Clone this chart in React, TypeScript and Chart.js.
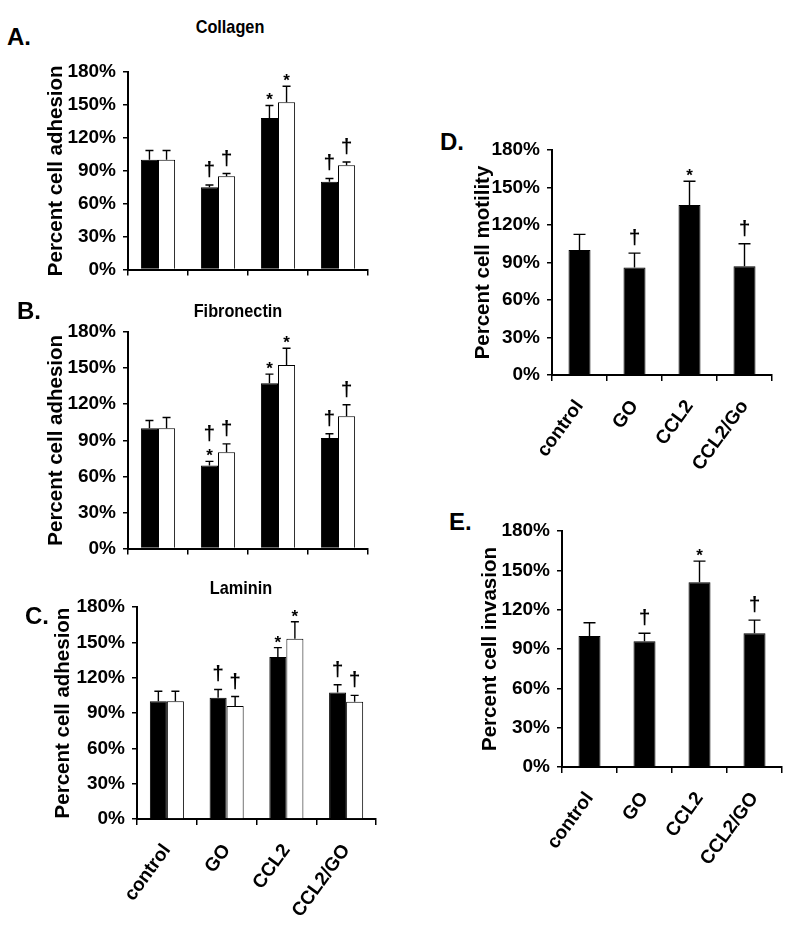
import React, { useEffect, useRef } from 'react';
import { Chart, registerables } from 'chart.js';

Chart.register(...registerables);

const FONT = "'Liberation Sans', Arial, sans-serif";
const NARROW = "'Liberation Sans Narrow', 'Arial Narrow', 'Liberation Sans', Arial, sans-serif";
Chart.defaults.font.family = FONT;

// ---------- data ----------
const groups = ['control', 'GO', 'CCL2', 'CCL2/GO'];
const groupsD = ['control', 'GO', 'CCL2', 'CCL2/Go'];
const yTicks = [0, 30, 60, 90, 120, 150, 180];

const collagenBlack = [100, 75, 138, 80];
const collagenBlackErr = [8.5, 2, 11.5, 3];
const collagenWhite = [100, 85, 152.5, 95];
const collagenWhiteErr = [8.5, 2.5, 14.5, 3];
const collagenBlackMarks = [[], ['†'], ['*'], ['†']];
const collagenWhiteMarks = [[], ['†'], ['*'], ['†']];

const fibroBlack = [100, 69, 137.5, 92];
const fibroBlackErr = [6.5, 3.5, 7.5, 3.5];
const fibroWhite = [100, 80, 152.5, 110];
const fibroWhiteErr = [9, 7, 14, 9.5];
const fibroBlackMarks = [[], ['*', '†'], ['*'], ['†']];
const fibroWhiteMarks = [[], ['†'], ['*'], ['†']];

const lamBlack = [100, 103, 137.5, 107.5];
const lamBlackErr = [8.5, 7, 8, 6.5];
const lamWhite = [100, 96, 153, 99.5];
const lamWhiteErr = [8.5, 8, 14.5, 5.5];
const lamBlackMarks = [[], ['†'], ['*'], ['†']];
const lamWhiteMarks = [[], ['†'], ['*'], ['†']];

const motility = [100, 86, 136, 87];
const motilityErr = [12.5, 11.5, 19, 18];
const motilityMarks = [[], ['†'], ['*'], ['†']];

const invasion = [100, 96, 141, 102];
const invasionErr = [10, 6, 16, 10];
const invasionMarks = [[], ['†'], ['*'], ['†']];

// ---------- plugin: upper error bars + significance marks ----------
const errPlugin = {
  id: 'errMarks',
  afterDatasetsDraw(chart: any, _args: any, opts: any) {
    const ctx = chart.ctx;
    const yScale = chart.scales.y;
    const capHalf = opts.capHalf ?? 4;
    chart.data.datasets.forEach((ds: any, i: number) => {
      const meta = chart.getDatasetMeta(i);
      meta.data.forEach((el: any, j: number) => {
        const v = ds.data[j];
        const e = ds.err ? ds.err[j] : 0;
        const yBar = yScale.getPixelForValue(v);
        const yTop = yScale.getPixelForValue(v + e);
        const x = el.x;
        ctx.save();
        ctx.strokeStyle = '#000';
        ctx.lineWidth = 1.4;
        ctx.beginPath();
        ctx.moveTo(x, yBar);
        ctx.lineTo(x, yTop);
        ctx.moveTo(x - capHalf, yTop);
        ctx.lineTo(x + capHalf, yTop);
        ctx.stroke();
        const marks: string[] = ds.marks ? ds.marks[j] : [];
        let bottom = yTop;
        ctx.fillStyle = '#000';
        ctx.textAlign = 'center';
        ctx.textBaseline = 'alphabetic';
        marks.forEach((sym) => {
          const isStar = sym === '*';
          ctx.font = `bold ${isStar ? opts.starSize : opts.daggerSize}px ${FONT}`;
          bottom -= isStar ? 5 : 7;
          const m = ctx.measureText(sym);
          const base = bottom - m.actualBoundingBoxDescent;
          ctx.fillText(sym, x, base);
          bottom = base - m.actualBoundingBoxAscent;
        });
        ctx.restore();
      });
    });
  },
};

type PanelCfg = {
  left: number;
  top: number;
  width: number;
  height: number;
  padTop: number;
  padRight: number;
  yW: number;
  xH: number;
  labels: string[];
  showX: boolean;
  yTitle: string;
  capHalf: number;
  catPct: number;
  datasets: any[];
};

function makeConfig(p: PanelCfg): any {
  return {
    type: 'bar',
    data: { labels: p.labels, datasets: p.datasets },
    plugins: [errPlugin],
    options: {
      responsive: false,
      animation: false,
      events: [],
      layout: { padding: { top: p.padTop, right: p.padRight, left: 0, bottom: 0 } },
      datasets: { bar: { categoryPercentage: p.catPct, barPercentage: 1 } },
      plugins: {
        legend: { display: false },
        tooltip: { enabled: false },
        errMarks: { capHalf: p.capHalf, starSize: 17, daggerSize: 21 },
      },
      scales: {
        x: {
          grid: {
            display: true,
            drawOnChartArea: false,
            drawTicks: true,
            tickLength: 6,
            color: '#000',
            lineWidth: 1.5,
            offset: true,
          },
          border: { display: true, color: '#000', width: 2 },
          ticks: {
            display: p.showX,
            color: '#000',
            font: { size: 19, weight: 'bold' },
            minRotation: 54,
            maxRotation: 54,
            autoSkip: false,
            padding: 15,
          },
          afterFit: (s: any) => {
            s.height = p.xH;
          },
        },
        y: {
          min: 0,
          max: 180,
          afterBuildTicks: (s: any) => {
            s.ticks = yTicks.map((v) => ({ value: v }));
          },
          ticks: {
            callback: (v: any) => v + '%',
            color: '#000',
            font: { family: NARROW, size: 19, weight: 'bold' },
            padding: 7,
          },
          grid: {
            drawOnChartArea: false,
            drawTicks: true,
            tickLength: 5,
            color: '#000',
            lineWidth: 1.5,
          },
          border: { display: true, color: '#000', width: 2 },
          title: {
            display: true,
            text: p.yTitle,
            color: '#000',
            font: { size: 20.5, weight: 'bold' },
            padding: { top: 4, bottom: 0 },
          },
          afterFit: (s: any) => {
            s.width = p.yW;
          },
        },
      },
    },
  };
}

function Panel({ cfg }: { cfg: PanelCfg }) {
  const ref = useRef<HTMLCanvasElement | null>(null);
  useEffect(() => {
    if (!ref.current) return;
    const chart = new Chart(ref.current, makeConfig(cfg));
    return () => chart.destroy();
  }, [cfg]);
  return (
    <canvas
      ref={ref}
      width={cfg.width}
      height={cfg.height}
      style={{ position: 'absolute', left: cfg.left, top: cfg.top }}
    />
  );
}

const blackDs = (data: number[], err: number[], marks: string[][]) => ({
  data,
  err,
  marks,
  backgroundColor: '#000',
  borderColor: '#000',
  borderWidth: 1,
});
const whiteDs = (data: number[], err: number[], marks: string[][]) => ({
  data,
  err,
  marks,
  backgroundColor: '#fff',
  borderColor: '#000',
  borderWidth: 1,
});

const panelA: PanelCfg = {
  left: 40, top: 40, width: 340, height: 248, padTop: 32, padRight: 12, yW: 88, xH: 12,
  labels: groups, showX: false, yTitle: 'Percent cell adhesion', capHalf: 4, catPct: 0.57,
  datasets: [
    blackDs(collagenBlack, collagenBlackErr, collagenBlackMarks),
    whiteDs(collagenWhite, collagenWhiteErr, collagenWhiteMarks),
  ],
};
const panelB: PanelCfg = {
  left: 40, top: 300, width: 340, height: 267, padTop: 32, padRight: 12, yW: 88, xH: 12,
  labels: groups, showX: false, yTitle: 'Percent cell adhesion', capHalf: 4, catPct: 0.57,
  datasets: [
    blackDs(fibroBlack, fibroBlackErr, fibroBlackMarks),
    whiteDs(fibroWhite, fibroWhiteErr, fibroWhiteMarks),
  ],
};
const panelC: PanelCfg = {
  left: 47, top: 575, width: 341, height: 350, padTop: 32, padRight: 12, yW: 90, xH: 106,
  labels: groups, showX: true, yTitle: 'Percent cell adhesion', capHalf: 4, catPct: 0.57,
  datasets: [
    blackDs(lamBlack, lamBlackErr, lamBlackMarks),
    whiteDs(lamWhite, lamWhiteErr, lamWhiteMarks),
  ],
};
const panelD: PanelCfg = {
  left: 467, top: 118, width: 319, height: 367, padTop: 32, padRight: 14, yW: 85, xH: 110,
  labels: groupsD, showX: true, yTitle: 'Percent cell motility', capHalf: 6, catPct: 0.4,
  datasets: [blackDs(motility, motilityErr, motilityMarks)],
};
const panelE: PanelCfg = {
  left: 474, top: 499, width: 322, height: 388, padTop: 32, padRight: 14, yW: 88, xH: 120,
  labels: groups, showX: true, yTitle: 'Percent cell invasion', capHalf: 6, catPct: 0.4,
  datasets: [blackDs(invasion, invasionErr, invasionMarks)],
};

const letterStyle = (left: number, top: number): React.CSSProperties => ({
  position: 'absolute',
  left,
  top,
  font: `bold 24px ${FONT}`,
  lineHeight: 1,
  color: '#000',
  whiteSpace: 'nowrap',
});
const titleStyle = (center: number, top: number): React.CSSProperties => ({
  position: 'absolute',
  left: center - 100,
  width: 200,
  top,
  textAlign: 'center',
  font: `bold 18.5px ${FONT}`,
  lineHeight: 1,
  color: '#000',
  transform: 'scaleX(0.88)',
  transformOrigin: '50% 0',
});

export default function App() {
  return (
    <div
      style={{
        position: 'absolute',
        left: 0,
        top: 0,
        width: 800,
        height: 925,
        background: '#fff',
        overflow: 'hidden',
      }}
    >
      <Panel cfg={panelA} />
      <Panel cfg={panelB} />
      <Panel cfg={panelC} />
      <Panel cfg={panelD} />
      <Panel cfg={panelE} />
      <div style={letterStyle(7, 25)}>A.</div>
      <div style={letterStyle(17, 299)}>B.</div>
      <div style={letterStyle(25, 604)}>C.</div>
      <div style={letterStyle(440, 130)}>D.</div>
      <div style={letterStyle(449, 510)}>E.</div>
      <div style={titleStyle(230, 18)}>Collagen</div>
      <div style={titleStyle(238, 302)}>Fibronectin</div>
      <div style={titleStyle(241, 579)}>Laminin</div>
    </div>
  );
}
